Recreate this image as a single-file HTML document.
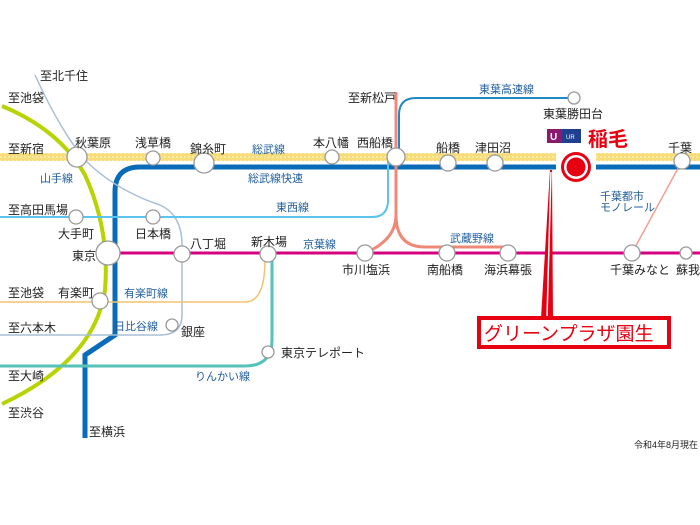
<!DOCTYPE html>
<html><head><meta charset="utf-8"><style>
html,body{margin:0;padding:0;background:#fff;}
svg{display:block;}
text{font-family:"Liberation Sans","Noto Sans CJK JP",sans-serif;font-size:12px;fill:#222;}
.l{fill:#1f5c9c;font-size:11px;}
</style></head><body>
<svg width="700" height="525" viewBox="0 0 700 525" xmlns="http://www.w3.org/2000/svg">
<defs>
<pattern id="dots" width="4" height="4" patternUnits="userSpaceOnUse"><rect width="4" height="4" fill="#f7dc7a"/><rect width="2" height="2" fill="#fbe9a8"/></pattern>
</defs>
<rect x="0" y="153" width="700" height="8" fill="url(#dots)"/>
<path d="M700 167 H140 Q115 167 115 192 V335 L85 355 V438" fill="none" stroke="#0a6cb8" stroke-width="5"/>
<path d="M2 106 Q60 130 85 175 Q110 230 105 290 Q95 360 2 404" fill="none" stroke="#b8d400" stroke-width="4"/>
<path d="M35 75 Q60 130 85 160 Q115 190 160 205 Q182 215 182 245 V315 Q182 335 160 335 H0" fill="none" stroke="#a9bfd4" stroke-width="1.5"/>
<path d="M0 217 H372 Q388 217 388 200 V160" fill="none" stroke="#5cc2ee" stroke-width="2"/>
<path d="M399 150 V115 Q399 98 416 98 H574" fill="none" stroke="#1e88c8" stroke-width="2"/>
<path d="M396 92 V215 Q396 240 365 253 M396 215 Q396 247 425 247 H508" fill="none" stroke="#f08878" stroke-width="3"/>
<path d="M108 253 H700" fill="none" stroke="#d6007f" stroke-width="3"/>
<path d="M0 302 H245 Q265 302 265 260" fill="none" stroke="#f2c26e" stroke-width="1.5"/>
<path d="M0 366 H245 Q272 366 272 340 V255" fill="none" stroke="#56c2b8" stroke-width="3"/>
<path d="M682 161 L632 253" fill="none" stroke="#f0a090" stroke-width="1.5"/>
<path d="M550 170 L552 170 L553 318 L541 318 Z" fill="#e60012"/>
<line x1="551" y1="172" x2="547" y2="318" stroke="#fff" stroke-width="1.5"/>
<g fill="#fff" stroke="#999" stroke-width="1.3">
<circle cx="77" cy="157" r="10"/><circle cx="153" cy="158" r="7"/><circle cx="204" cy="163" r="10"/>
<circle cx="332" cy="157" r="7"/><circle cx="396" cy="157" r="9"/><circle cx="448" cy="163" r="8"/>
<circle cx="495" cy="163" r="8"/><circle cx="682" cy="161" r="8"/><circle cx="574" cy="98" r="6"/>
<circle cx="76" cy="217" r="7"/><circle cx="153" cy="217" r="7"/><circle cx="108" cy="253" r="12"/>
<circle cx="182" cy="254" r="8"/><circle cx="268" cy="254" r="8"/><circle cx="365" cy="253" r="8"/>
<circle cx="447" cy="253" r="8"/><circle cx="508" cy="253" r="8"/><circle cx="632" cy="253" r="8"/>
<circle cx="686" cy="253" r="6"/><circle cx="100" cy="301" r="8"/><circle cx="172" cy="325" r="6"/>
<circle cx="268" cy="352" r="6"/>
</g>
<rect x="556" y="150" width="40" height="22" fill="#fff"/>
<circle cx="576" cy="167" r="15" fill="#e60012"/><circle cx="576" cy="167" r="12" fill="#fff"/><circle cx="576" cy="167" r="9.5" fill="#e60012"/>
<rect x="547" y="129" width="15" height="14" fill="#8a1a6e"/><rect x="562" y="129" width="19" height="14" fill="#1f3f8f"/>
<text x="550" y="140" style="fill:#fff;font-size:10px;font-weight:bold">U</text><text x="566" y="139" style="fill:#fff;font-size:6px">UR</text>
<text x="588" y="146" style="fill:#e60012;font-size:20px;font-weight:bold">稲毛</text>
<rect x="479" y="318" width="190" height="29" fill="#fff" stroke="#e60012" stroke-width="4"/>
<text x="484" y="340" style="fill:#e60012;font-size:19px">グリーンプラザ園生</text>
<text x="40" y="80">至北千住</text><text x="8" y="102">至池袋</text><text x="8" y="153">至新宿</text>
<text x="75" y="147">秋葉原</text><text x="135" y="147">浅草橋</text><text x="190" y="153">錦糸町</text>
<text x="313" y="147">本八幡</text><text x="357" y="147">西船橋</text><text x="436" y="152">船橋</text>
<text x="475" y="152">津田沼</text><text x="668" y="152">千葉</text><text x="348" y="102">至新松戸</text>
<text x="543" y="118">東葉勝田台</text>
<text x="8" y="214">至高田馬場</text><text x="58" y="238">大手町</text><text x="135" y="238">日本橋</text>
<text x="72" y="260">東京</text><text x="190" y="248">八丁堀</text><text x="251" y="246">新木場</text>
<text x="342" y="274">市川塩浜</text><text x="427" y="274">南船橋</text><text x="484" y="274">海浜幕張</text>
<text x="610" y="274">千葉みなと</text><text x="676" y="274">蘇我</text>
<text x="8" y="297">至池袋</text><text x="58" y="297">有楽町</text><text x="8" y="332">至六本木</text>
<text x="181" y="336">銀座</text><text x="281" y="357">東京テレポート</text>
<text x="8" y="380">至大崎</text><text x="8" y="417">至渋谷</text><text x="89" y="436">至横浜</text>
<text x="634" y="448" style="font-size:9px">令和4年8月現在</text>
<text class="l" x="40" y="182">山手線</text><text class="l" x="252" y="153">総武線</text>
<text class="l" x="248" y="182">総武線快速</text><text class="l" x="276" y="211">東西線</text>
<text class="l" x="303" y="248">京葉線</text><text class="l" x="124" y="297">有楽町線</text>
<text class="l" x="114" y="330">日比谷線</text><text class="l" x="195" y="380">りんかい線</text>
<text class="l" x="479" y="93">東葉高速線</text><text class="l" x="450" y="242">武蔵野線</text>
<text class="l" x="600" y="200">千葉都市</text><text class="l" x="600" y="211">モノレール</text>
</svg>
</body></html>
